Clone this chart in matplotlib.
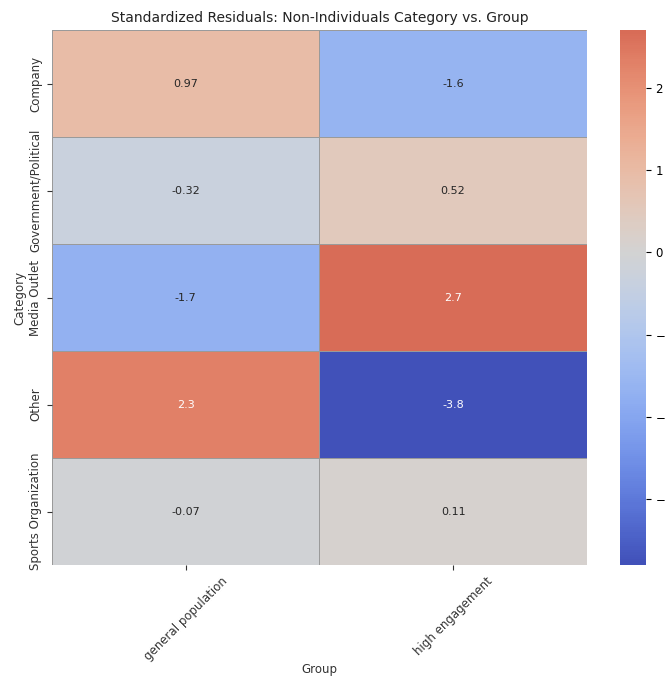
import numpy as np
import pandas as pd
import matplotlib
matplotlib.use("Agg")
import matplotlib.pyplot as plt
from matplotlib.colors import ListedColormap
import seaborn as sns

# 標準化残差
categories = ["Company", "Government/Political", "Media Outlet", "Other", "Sports Organization"]
groups = ["general population", "high engagement"]
general_population = [0.97, -0.32, -1.7, 2.3, -0.07]
high_engagement = [-1.6, 0.52, 2.7, -3.8, 0.11]

df = pd.DataFrame({groups[0]: general_population, groups[1]: high_engagement}, index=categories)
df.index.name = "Category"
df.columns.name = "Group"

# 元画像は少しくすんだ coolwarm
base = plt.get_cmap("coolwarm")(np.linspace(0, 1, 256))
base[:, :3] = base[:, :3] * 0.9 + 12 / 255
cmap = ListedColormap(base)

fig = plt.figure(figsize=(6.65, 6.77), dpi=100)
ax = fig.add_axes([0.078, 0.1654, 0.8045, 0.790])
cax = fig.add_axes([0.932, 0.1654, 0.039, 0.790])

sns.heatmap(df, ax=ax, cbar_ax=cax, cmap=cmap, center=0,
            annot=True, fmt=".2g", annot_kws={"fontsize": 8},
            linewidths=0.6, linecolor="#9a9a9a")

ax.set_title("Standardized Residuals: Non-Individuals Category vs. Group",
             fontsize=10, color="#222222")
ax.set_xlabel("Group", fontsize=8.5, color="#333333", labelpad=0)
ax.set_ylabel("Category", fontsize=8.5, color="#333333", labelpad=2)
ax.tick_params(axis="both", labelsize=8.5, colors="#333333")
plt.setp(ax.get_xticklabels(), rotation=45, ha="center", rotation_mode="default")
plt.setp(ax.get_yticklabels(), rotation=90, va="center")
cax.tick_params(labelsize=8.5)
cax.set_yticks([-3, -2, -1, 0, 1, 2])

fig.savefig("out.png", dpi=100)
